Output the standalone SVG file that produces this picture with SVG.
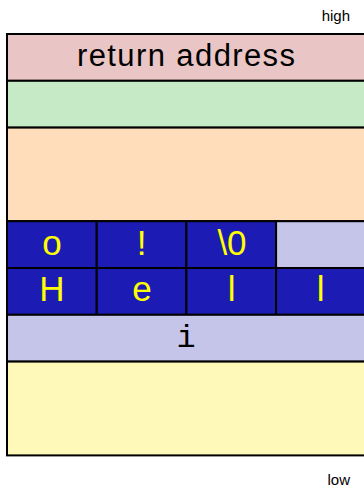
<svg xmlns="http://www.w3.org/2000/svg" width="364" height="488" viewBox="0 0 364 488">
  <style>
    .box { stroke: #000; stroke-width: 2; }
    .lbl { font-family: "Liberation Sans", Arial, sans-serif; fill: #000; }
    .big { font-family: "Liberation Sans", Arial, sans-serif; font-size: 35px; fill: #FFFF00; text-anchor: middle; }
    .mono { font-family: "Liberation Mono", "Courier New", monospace; font-size: 32px; fill: #000; text-anchor: middle; }
    .char { fill: #1C1CB4; }
  </style>
  <rect width="364" height="488" fill="#FFFFFF"/>
  <g id="label-high">
    <text class="lbl" x="350" y="21" font-size="15" text-anchor="end">high</text>
  </g>
  <g id="return-address">
    <rect class="box" x="7" y="34" width="358.5" height="46.8" fill="#EAC5C5"/>
    <text class="lbl" x="186" y="66" font-size="31" text-anchor="middle" textLength="218" lengthAdjust="spacing">return address</text>
  </g>
  <g id="green-slot">
    <rect class="box" x="7" y="80.8" width="358.5" height="46.8" fill="#C5EAC5"/>
  </g>
  <g id="orange-slot">
    <rect class="box" x="7" y="127.6" width="358.5" height="93.6" fill="#FFDDBB"/>
  </g>
  <g id="row-o">
    <g id="cell-o">
      <rect class="box char" x="7" y="221.2" width="89.7" height="46.8"/>
      <text class="big" x="52" y="254.5">o</text>
    </g>
    <g id="cell-excl">
      <rect class="box char" x="96.7" y="221.2" width="89.7" height="46.8"/>
      <text class="big" x="141.5" y="254.5">!</text>
    </g>
    <g id="cell-nul">
      <rect class="box char" x="186.4" y="221.2" width="89.7" height="46.8"/>
      <text class="big" x="232" y="254.5">\0</text>
    </g>
    <g id="cell-empty">
      <rect class="box" x="276.1" y="221.2" width="89.7" height="46.8" fill="#C5C5EA"/>
    </g>
  </g>
  <g id="row-h">
    <g id="cell-H">
      <rect class="box char" x="7" y="268" width="89.7" height="46.8"/>
      <text class="big" x="52" y="301">H</text>
    </g>
    <g id="cell-e">
      <rect class="box char" x="96.7" y="268" width="89.7" height="46.8"/>
      <text class="big" x="142" y="301">e</text>
    </g>
    <g id="cell-l1">
      <rect class="box char" x="186.4" y="268" width="89.7" height="46.8"/>
      <text class="big" x="231.7" y="301">l</text>
    </g>
    <g id="cell-l2">
      <rect class="box char" x="276.1" y="268" width="89.7" height="46.8"/>
      <text class="big" x="320.7" y="301">l</text>
    </g>
  </g>
  <g id="var-i">
    <rect class="box" x="7" y="314.8" width="358.5" height="46.8" fill="#C5C5EA"/>
    <text class="mono" x="186" y="347.3">i</text>
  </g>
  <g id="yellow-slot">
    <rect class="box" x="7" y="361.6" width="358.5" height="93.8" fill="#FFF9B9" stroke-width="2.4"/>
  </g>
  <g id="label-low">
    <text class="lbl" x="350" y="485" font-size="15" text-anchor="end">low</text>
  </g>
</svg>
